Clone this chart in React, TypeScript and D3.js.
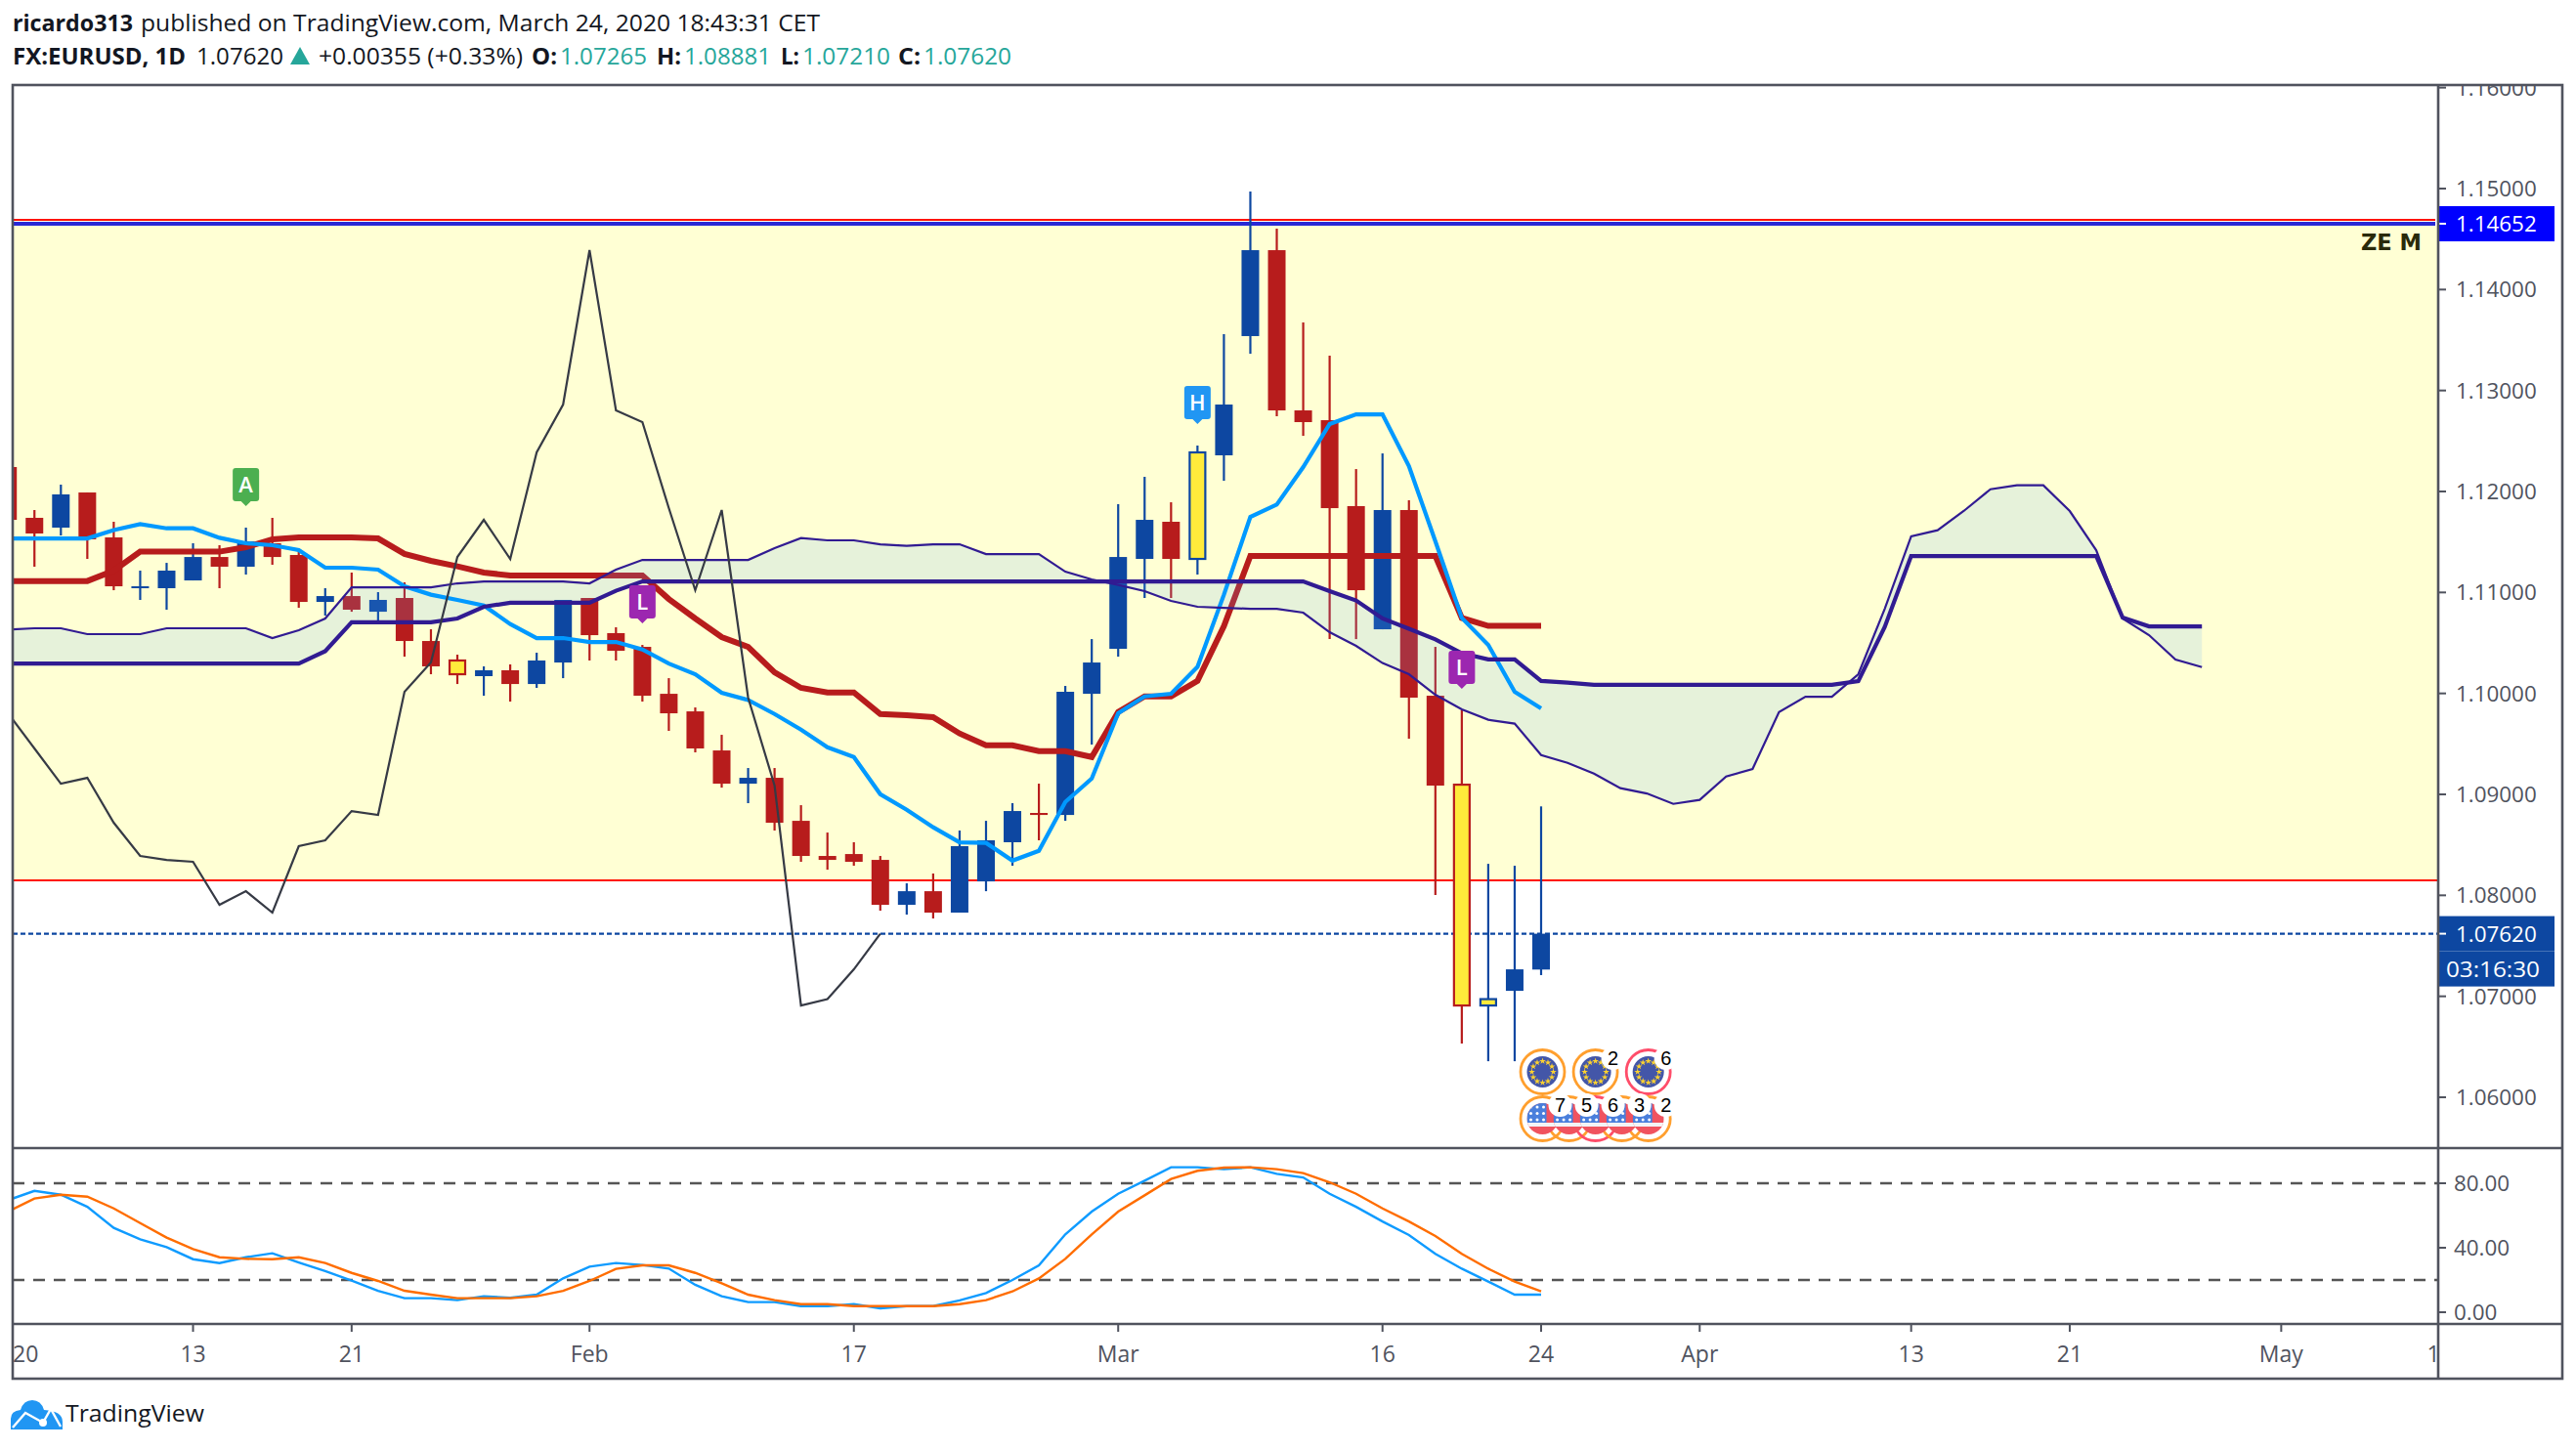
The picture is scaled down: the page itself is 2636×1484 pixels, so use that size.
import * as d3 from 'd3';

const opens = [1.12242,1.11739,1.11642,1.1199,1.11545,1.11042,1.11042,1.11119,1.11351,1.11255,1.11487,1.11371,1.10906,1.10964,1.10809,1.10945,1.10519,1.10326,1.10171,1.10229,1.10093,1.10306,1.10945,1.10597,1.10461,1.09996,1.09822,1.09435,1.09106,1.09164,1.08738,1.0839,1.08409,1.08351,1.07906,1.08041,1.07829,1.08138,1.08526,1.08816,1.08796,1.09996,1.10442,1.11332,1.117,1.11332,1.12358,1.13539,1.1439,1.12803,1.12706,1.11855,1.10635,1.11816,1.09977,1.09096,1.06909,1.07054,1.07265];
const highs = [1.12242,1.11816,1.12068,1.1199,1.117,1.11216,1.11293,1.11487,1.11468,1.11642,1.11739,1.11419,1.11042,1.11197,1.11003,1.111,1.10635,1.10384,1.10268,1.10287,1.10403,1.10926,1.10945,1.10655,1.1048,1.10151,1.09861,1.0959,1.09261,1.09261,1.08893,1.08622,1.08526,1.0839,1.08119,1.08216,1.08642,1.08738,1.08913,1.09106,1.10074,1.10538,1.11874,1.12145,1.11893,1.12455,1.13558,1.14971,1.14603,1.13674,1.13345,1.12222,1.12377,1.11913,1.10461,1.09832,1.08312,1.08293,1.08881];
const lows = [1.11719,1.11255,1.11564,1.11332,1.11022,1.10926,1.10829,1.11119,1.11042,1.11177,1.11274,1.10848,1.10771,1.10809,1.10713,1.10364,1.1019,1.10093,1.09977,1.09919,1.10055,1.10151,1.10326,1.10326,1.09919,1.09629,1.09416,1.09067,1.08913,1.08642,1.08332,1.08254,1.08293,1.07848,1.07809,1.07771,1.07829,1.08041,1.08293,1.08545,1.08738,1.09493,1.10364,1.10945,1.10945,1.11177,1.12106,1.13364,1.12745,1.12551,1.10538,1.10538,1.10635,1.09551,1.08003,1.06532,1.06357,1.06357,1.0721];
const closes = [1.11719,1.11584,1.11971,1.11526,1.11061,1.11061,1.11216,1.11351,1.11255,1.11506,1.11351,1.10906,1.10964,1.10829,1.10926,1.10519,1.10268,1.1019,1.10229,1.10093,1.10326,1.10926,1.10577,1.10422,1.09977,1.09803,1.09455,1.09106,1.09164,1.08719,1.0839,1.08351,1.08332,1.07906,1.08041,1.07829,1.08487,1.08545,1.08835,1.08796,1.10016,1.10306,1.11351,1.11719,1.11332,1.12387,1.12861,1.1439,1.12803,1.12687,1.11835,1.11022,1.11816,1.09958,1.09087,1.06909,1.06972,1.07267,1.0762];
const highlightedBars = [17, 45, 55, 56];

const tenkan = [1.11535,1.11535,1.11535,1.11535,1.11618,1.11677,1.11635,1.11635,1.11541,1.11487,1.11468,1.11419,1.11245,1.11245,1.11226,1.11061,1.10978,1.10926,1.10871,1.10687,1.10548,1.10548,1.10509,1.10509,1.10436,1.10296,1.1019,1.10006,1.09935,1.09796,1.09641,1.09467,1.0937,1.09002,1.08848,1.08674,1.08525,1.08519,1.08344,1.08441,1.08925,1.09157,1.09803,1.0997,1.09996,1.10262,1.10978,1.11748,1.1187,1.12242,1.12668,1.12764,1.12764,1.12251,1.11506,1.10747,1.1048,1.10016,1.09851];
const kijun = [1.11113,1.11113,1.11113,1.11113,1.11216,1.11404,1.11404,1.11404,1.11404,1.11448,1.11526,1.11545,1.11545,1.11545,1.11535,1.11382,1.11313,1.11258,1.11197,1.11168,1.11168,1.11168,1.11168,1.11168,1.11168,1.10935,1.10742,1.10558,1.10461,1.10209,1.10055,1.10009,1.10009,1.09796,1.09784,1.09764,1.09603,1.09486,1.09486,1.09428,1.09428,1.0937,1.09815,1.0997,1.0997,1.10124,1.10667,1.11361,1.11361,1.11361,1.11361,1.11361,1.11361,1.11361,1.11361,1.10747,1.10669,1.10669,1.10669];
const senkouA = [1.10632,1.10645,1.10645,1.10587,1.10587,1.10587,1.10645,1.10645,1.10645,1.10645,1.10548,1.10626,1.10742,1.11051,1.11051,1.11051,1.11051,1.1109,1.11109,1.11109,1.11109,1.11109,1.1109,1.11226,1.11322,1.11322,1.11322,1.11322,1.11322,1.11439,1.11538,1.11516,1.11516,1.11477,1.11462,1.11477,1.11477,1.1138,1.1138,1.1138,1.11206,1.11129,1.11075,1.11013,1.10916,1.10858,1.10848,1.10838,1.10838,1.108,1.10606,1.10471,1.10301,1.1019,1.09987,1.09842,1.09739,1.09701,1.0939,1.09312,1.09206,1.09061,1.09009,1.08906,1.08945,1.09177,1.09251,1.09815,1.09967,1.09967,1.1019,1.10838,1.11555,1.11616,1.11809,1.12022,1.12061,1.12061,1.11806,1.11419,1.10742,1.10577,1.10335,1.10261];
const senkouB = [1.10296,1.10296,1.10296,1.10296,1.10296,1.10296,1.10296,1.10296,1.10296,1.10296,1.10296,1.10296,1.10418,1.10705,1.10705,1.10705,1.10705,1.10742,1.10858,1.10898,1.10898,1.10898,1.10898,1.11017,1.11109,1.11109,1.11109,1.11109,1.11109,1.11109,1.11109,1.11109,1.11109,1.11109,1.11109,1.11109,1.11109,1.11109,1.11109,1.11109,1.11109,1.11109,1.11109,1.11109,1.11109,1.11109,1.11109,1.11109,1.11109,1.11109,1.11013,1.1092,1.10742,1.1064,1.10535,1.10398,1.10337,1.10337,1.10124,1.10106,1.10086,1.10086,1.10086,1.10086,1.10086,1.10086,1.10086,1.10086,1.10086,1.10086,1.10122,1.10657,1.11361,1.11361,1.11361,1.11361,1.11361,1.11361,1.11361,1.11361,1.10751,1.10664,1.10664,1.10664];
// lagging line is just the close moved back 25 bars
const chikou = closes.slice(25);

const stochK = [69.5,75.3,72.9,65.4,52.3,45.2,40.4,32.9,30.5,34.1,36.6,30.9,25.6,19.6,13.3,8.7,8.7,7.5,9.9,8.9,10.9,21,28.3,30.5,29.3,27.1,17,9.9,6.3,6.3,3.8,3.8,5,2.4,3.8,3.8,7.3,11.9,20,29.1,48.3,62.4,73.5,81.6,89.9,89.9,88.7,89.9,85.8,83.6,73.5,65.4,56.3,47.9,36.2,27,19,10.9,10.9];
const stochD = [62.4,70.5,72.9,71.7,64.4,55.3,46.3,39.2,34.1,33.1,32.9,34.1,30.5,24.4,19.4,13.3,10.9,8.7,8.7,8.7,9.9,13.3,19.4,26.9,29.1,29.1,24.4,18,10.9,7.5,5,5,3.8,3.8,3.8,3.8,5,7.5,12.9,21,33.1,48.3,62.4,72.5,82.6,87.7,89.7,89.9,88.7,86.3,80.6,73.5,64.4,56.3,47.3,36.2,27,19,12.9];

const priceTicks = [1.06, 1.07, 1.08, 1.09, 1.1, 1.11, 1.12, 1.13, 1.14, 1.15, 1.16];
const oscTicks = [0, 40, 80];
const oscBands = [20, 80];
const timeTickBars = [0, 7, 13, 22, 32, 42, 52, 58, 64, 72, 78, 86, 92];
const timeTickLabels = ['2020', '13', '21', 'Feb', '17', 'Mar', '16', '24', 'Apr', '13', '21', 'May', '11'];

const zoneHigh = 1.1463;
const zoneLow = 1.08148;
const zoneTopRed = 1.1469;
const zoneTopBlue = 1.14652;
const lastClose = 1.0762;

const flags = [
  { bar: 9, text: 'A', color: '#4caf50' },
  { bar: 24, text: 'L', color: '#9c27b0' },
  { bar: 45, text: 'H', color: '#2196f3' },
  { bar: 55, text: 'L', color: '#9c27b0' },
];
const euEvents = [
  { bar: 58, count: '', color: '#ff9f2e' },
  { bar: 60, count: '2', color: '#ff9f2e' },
  { bar: 62, count: '6', color: '#ff4d6a' },
];
const usEvents = [
  { bar: 58, count: '7', color: '#ff9f2e' },
  { bar: 59, count: '5', color: '#ff9f2e' },
  { bar: 60, count: '6', color: '#ff4d6a' },
  { bar: 61, count: '3', color: '#ff9f2e' },
  { bar: 62, count: '2', color: '#ff9f2e' },
];

const WIDTH = 2636;
const HEIGHT = 1484;
const LEFT = 13;
const TOP = 87;
const RIGHT = 2622;
const BOTTOM = 1411;
const AXIS_X = 2495;
const PANE_Y = 1175;
const TIME_Y = 1355;

const AXIS_COLOR = '#50535e';
const BLUE = '#0d47a1';
const RED = '#b71c1c';
const TEAL = '#26a69a';
const FONT = '"Open Sans", sans-serif';

const x = d3.scaleLinear().domain([0, 58]).range([8.2, 1577]);
const y = d3.scaleLinear().domain([1.06, 1.15]).range([1123, 193]);
const osc = d3.scaleLinear().domain([0, 80]).range([1343, 1211]);

const priceLine = d3.line<number>().x((_, i) => x(i)).y((d) => y(d));
const oscLine = d3.line<number>().x((_, i) => x(i)).y((d) => osc(d));
const cloud = d3
  .area<number>()
  .x((_, i) => x(i))
  .y0((d) => y(d))
  .y1((_, i) => y(senkouB[i]));

const star = d3.symbol().type(d3.symbolStar).size(14)() as string;

function flagPath(cx: number, tip: number) {
  const w = 13.5;
  const bottom = tip - 5;
  const top = bottom - 34;
  return `M${cx - w + 3},${top}H${cx + w - 3}Q${cx + w},${top} ${cx + w},${top + 3}V${bottom - 3}Q${cx + w},${bottom} ${cx + w - 3},${bottom}H${cx + 5}L${cx},${tip}L${cx - 5},${bottom}H${cx - w + 3}Q${cx - w},${bottom} ${cx - w},${bottom - 3}V${top + 3}Q${cx - w},${top} ${cx - w + 3},${top}Z`;
}

function HeaderText({ px, py, width, bold, fill, children }: any) {
  return (
    <text
      x={px}
      y={py}
      textLength={width}
      lengthAdjust="spacingAndGlyphs"
      fontFamily={FONT}
      fontSize={24}
      fontWeight={bold ? 700 : 400}
      fill={fill || '#131722'}
    >
      {children}
    </text>
  );
}

function EuBadge({ cx, cy, color }: { cx: number; cy: number; color: string }) {
  return (
    <g>
      <circle cx={cx} cy={cy} r={22.5} fill="#fff" stroke={color} strokeWidth={2.8} />
      <circle cx={cx} cy={cy} r={16} fill="#4356a8" />
      {d3.range(12).map((k) => (
        <path
          key={k}
          d={star}
          fill="#ffd32e"
          transform={`translate(${cx + 11 * Math.cos((k * Math.PI) / 6)},${cy + 11 * Math.sin((k * Math.PI) / 6)})`}
        />
      ))}
    </g>
  );
}

function UsFlag({ cx, cy, id }: { cx: number; cy: number; id: string }) {
  return (
    <g clipPath={`url(#${id})`}>
      <rect x={cx - 16} y={cy - 16} width={32} height={32} fill="#f0535f" />
      <rect x={cx - 16} y={cy + 4} width={32} height={4} fill="#f3f4f6" />
      <rect x={cx - 16} y={cy - 16} width={20} height={20} fill="#4a7fdc" />
      {d3.range(3).map((r) =>
        d3.range(3).map((c) => (
          <circle key={`${r}${c}`} cx={cx - 12 + c * 6.5} cy={cy - 12 + r * 6.5} r={1.5} fill="#fff" />
        ))
      )}
    </g>
  );
}

function CountBubble({ cx, cy, count }: { cx: number; cy: number; count: string }) {
  if (!count) return null;
  return (
    <g>
      <circle cx={cx + 18} cy={cy - 14} r={12} fill="#fff" />
      <text x={cx + 18} y={cy - 7} textAnchor="middle" fontFamily="Liberation Sans" fontSize={20} fill="#000">
        {count}
      </text>
    </g>
  );
}

export default function App() {
  const barWidth = 18;
  return (
    <svg
      width={WIDTH}
      height={HEIGHT}
      viewBox={`0 0 ${WIDTH} ${HEIGHT}`}
      style={{ position: 'absolute', left: 0, top: 0, display: 'block', background: '#fff' }}
    >
      <defs>
        <clipPath id="mainClip">
          <rect x={LEFT} y={TOP} width={AXIS_X - LEFT} height={PANE_Y - TOP} />
        </clipPath>
        <clipPath id="oscClip">
          <rect x={LEFT} y={PANE_Y} width={AXIS_X - LEFT} height={TIME_Y - PANE_Y} />
        </clipPath>
        <clipPath id="timeClip">
          <rect x={LEFT} y={TIME_Y} width={AXIS_X - LEFT} height={BOTTOM - TIME_Y} />
        </clipPath>
        <clipPath id="priceClip">
          <rect x={AXIS_X} y={TOP} width={RIGHT - AXIS_X} height={TIME_Y - TOP} />
        </clipPath>
        {usEvents.map((e, k) => (
          <clipPath id={`us${k}`} key={k}>
            <circle cx={x(e.bar) + 1.5} cy={1145} r={16} />
          </clipPath>
        ))}
      </defs>

      {/* header */}
      <HeaderText px={13} py={32} width={123} bold>ricardo313</HeaderText>
      <HeaderText px={144} py={32} width={695}>published on TradingView.com, March 24, 2020 18:43:31 CET</HeaderText>
      <HeaderText px={13} py={66} width={177} bold>FX:EURUSD, 1D</HeaderText>
      <HeaderText px={201} py={66} width={89}>1.07620</HeaderText>
      <polygon points="297,66 317,66 307,48" fill={TEAL} />
      <HeaderText px={326} py={66} width={209}>+0.00355 (+0.33%)</HeaderText>
      <HeaderText px={544} py={66} width={26} bold>O:</HeaderText>
      <HeaderText px={573} py={66} width={89} fill={TEAL}>1.07265</HeaderText>
      <HeaderText px={672} py={66} width={25} bold>H:</HeaderText>
      <HeaderText px={700} py={66} width={89} fill={TEAL}>1.08881</HeaderText>
      <HeaderText px={799} py={66} width={19} bold>L:</HeaderText>
      <HeaderText px={821} py={66} width={90} fill={TEAL}>1.07210</HeaderText>
      <HeaderText px={919} py={66} width={23} bold>C:</HeaderText>
      <HeaderText px={945} py={66} width={90} fill={TEAL}>1.07620</HeaderText>

      {/* main pane */}
      <g clipPath="url(#mainClip)">
        <rect x={LEFT} y={y(zoneHigh)} width={AXIS_X - LEFT} height={y(zoneLow) - y(zoneHigh)} fill="#ffffd4" />
        <line x1={LEFT} x2={AXIS_X - 3} y1={y(zoneTopRed)} y2={y(zoneTopRed)} stroke="#ff1200" strokeWidth={2} />
        <line x1={LEFT} x2={AXIS_X - 3} y1={y(zoneTopBlue)} y2={y(zoneTopBlue)} stroke="#2929d6" strokeWidth={4} />
        <line x1={LEFT} x2={AXIS_X} y1={y(zoneLow)} y2={y(zoneLow)} stroke="#ff1200" strokeWidth={2} />
        <line x1={LEFT} x2={AXIS_X} y1={y(lastClose)} y2={y(lastClose)} stroke={BLUE} strokeWidth={2.4} strokeDasharray="5 3" />

        {opens.map((open, i) => {
          const close = closes[i];
          const color = close >= open ? BLUE : RED;
          const highlighted = highlightedBars.includes(i);
          const top = y(Math.max(open, close));
          const bodyHeight = Math.max(y(Math.min(open, close)) - top, 2);
          return (
            <g key={i}>
              <line x1={x(i)} x2={x(i)} y1={y(highs[i])} y2={y(lows[i])} stroke={color} strokeWidth={2.2} />
              {highlighted ? (
                <rect x={x(i) - barWidth / 2 + 1} y={top} width={barWidth - 2} height={bodyHeight} fill="#ffeb3b" stroke={color} strokeWidth={2.2} />
              ) : (
                <rect x={x(i) - barWidth / 2} y={top} width={barWidth} height={bodyHeight} fill={color} />
              )}
            </g>
          );
        })}

        <path d={priceLine(kijun) as string} fill="none" stroke={RED} strokeWidth={6} />
        <path d={cloud(senkouA) as string} fill="rgb(96,172,255)" fillOpacity={0.155} />
        <path d={priceLine(tenkan) as string} fill="none" stroke="#0099ff" strokeWidth={4.2} />
        <path d={priceLine(senkouA) as string} fill="none" stroke="#311b92" strokeWidth={2.2} />
        <path d={priceLine(senkouB) as string} fill="none" stroke="#311b92" strokeWidth={4.2} />
        <path d={priceLine(chikou) as string} fill="none" stroke="#363a45" strokeWidth={2.2} />

        {flags.map((f, k) => {
          const tip = y(highs[f.bar]) - 22;
          return (
            <g key={k}>
              <path d={flagPath(x(f.bar), tip)} fill={f.color} />
              <text x={x(f.bar)} y={tip - 14} textAnchor="middle" fontFamily={FONT} fontSize={22} fontWeight={600} fill="#fff">
                {f.text}
              </text>
            </g>
          );
        })}

        <text x={2416} y={256} textLength={62} lengthAdjust="spacingAndGlyphs" fontFamily="DejaVu Sans" fontWeight={700} fontSize={23} fill="#2a2a0a">
          ZE M
        </text>

        {euEvents.map((e, k) => (
          <EuBadge key={k} cx={x(e.bar) + 1.5} cy={1097} color={e.color} />
        ))}
        {euEvents.map((e, k) => (
          <CountBubble key={k} cx={x(e.bar) + 1.5} cy={1097} count={e.count} />
        ))}
        {usEvents.map((e, k) => (
          <circle key={k} cx={x(e.bar) + 1.5} cy={1145} r={22.5} fill="none" stroke={e.color} strokeWidth={2.8} />
        ))}
        {usEvents.map((e, k) => (
          <UsFlag key={k} cx={x(e.bar) + 1.5} cy={1145} id={`us${k}`} />
        ))}
        {usEvents.map((e, k) => (
          <CountBubble key={k} cx={x(e.bar) + 1.5} cy={1145} count={e.count} />
        ))}
      </g>

      {/* stochastic pane */}
      <g clipPath="url(#oscClip)">
        {oscBands.map((b) => (
          <line key={b} x1={LEFT} x2={AXIS_X} y1={osc(b)} y2={osc(b)} stroke="#555" strokeWidth={2.6} strokeDasharray="12 9" />
        ))}
        <path d={oscLine(stochK) as string} fill="none" stroke="#0f9bff" strokeWidth={2.4} />
        <path d={oscLine(stochD) as string} fill="none" stroke="#ff6d00" strokeWidth={2.4} />
      </g>

      {/* price axis */}
      <g clipPath="url(#priceClip)" fontFamily={FONT} fontSize={22.4} fill={AXIS_COLOR}>
        {priceTicks.map((p) => (
          <g key={p}>
            <line x1={AXIS_X} x2={AXIS_X + 8} y1={y(p)} y2={y(p)} stroke={AXIS_COLOR} strokeWidth={2} />
            <text x={2513} y={y(p) + 8}>{d3.format('.5f')(p)}</text>
          </g>
        ))}
        {oscTicks.map((t) => (
          <g key={t}>
            <line x1={AXIS_X} x2={AXIS_X + 8} y1={osc(t)} y2={osc(t)} stroke={AXIS_COLOR} strokeWidth={2} />
            <text x={2511} y={osc(t) + 8}>{d3.format('.2f')(t)}</text>
          </g>
        ))}
        <rect x={AXIS_X - 1} y={y(zoneTopBlue) - 18} width={120} height={36} fill="#0000ff" />
        <line x1={AXIS_X} x2={AXIS_X + 8} y1={y(zoneTopBlue)} y2={y(zoneTopBlue)} stroke="#fff" strokeWidth={2} />
        <text x={2513} y={y(zoneTopBlue) + 8} fill="#fff">{d3.format('.5f')(zoneTopBlue)}</text>
        <rect x={AXIS_X - 1} y={y(lastClose) - 18} width={120} height={36} fill={BLUE} />
        <line x1={AXIS_X} x2={AXIS_X + 8} y1={y(lastClose)} y2={y(lastClose)} stroke="#fff" strokeWidth={2} />
        <text x={2513} y={y(lastClose) + 8} fill="#fff">{d3.format('.5f')(lastClose)}</text>
        <rect x={AXIS_X - 1} y={y(lastClose) + 18} width={120} height={36} fill={BLUE} />
        <text x={2503} y={y(lastClose) + 44} fill="#fff" textLength={96} lengthAdjust="spacingAndGlyphs">03:16:30</text>
      </g>

      {/* time axis */}
      <g clipPath="url(#timeClip)" fontFamily={FONT} fontSize={23} fill={AXIS_COLOR} textAnchor="middle">
        {timeTickBars.map((bar, k) => (
          <g key={k}>
            <line x1={x(bar)} x2={x(bar)} y1={TIME_Y} y2={TIME_Y + 8} stroke={AXIS_COLOR} strokeWidth={2} />
            <text x={Math.max(x(bar), LEFT)} y={1394}>{timeTickLabels[k]}</text>
          </g>
        ))}
      </g>

      {/* frame and pane separators */}
      <g stroke={AXIS_COLOR} strokeWidth={2.6} fill="none">
        <rect x={LEFT} y={TOP} width={RIGHT - LEFT} height={BOTTOM - TOP} />
        <line x1={LEFT} x2={RIGHT} y1={PANE_Y} y2={PANE_Y} />
        <line x1={LEFT} x2={RIGHT} y1={TIME_Y} y2={TIME_Y} />
        <line x1={AXIS_X} x2={AXIS_X} y1={TOP} y2={BOTTOM} />
      </g>

      {/* logo */}
      <g>
        <path d="M11,1463 V1452 Q11,1444 21,1443 Q24,1433 33,1433 Q42,1433 45,1443 Q64,1444 64,1455 V1463 Z" fill="#2196f3" />
        <path d="M13,1461 L26,1446 L44,1456 L52,1442 L62,1460" fill="none" stroke="#fff" strokeWidth={2.4} />
        <circle cx={44} cy={1456} r={4} fill="#fff" />
        <text x={67} y={1455} textLength={142} lengthAdjust="spacingAndGlyphs" fontFamily={FONT} fontSize={24} fill="#131722">
          TradingView
        </text>
      </g>
    </svg>
  );
}
